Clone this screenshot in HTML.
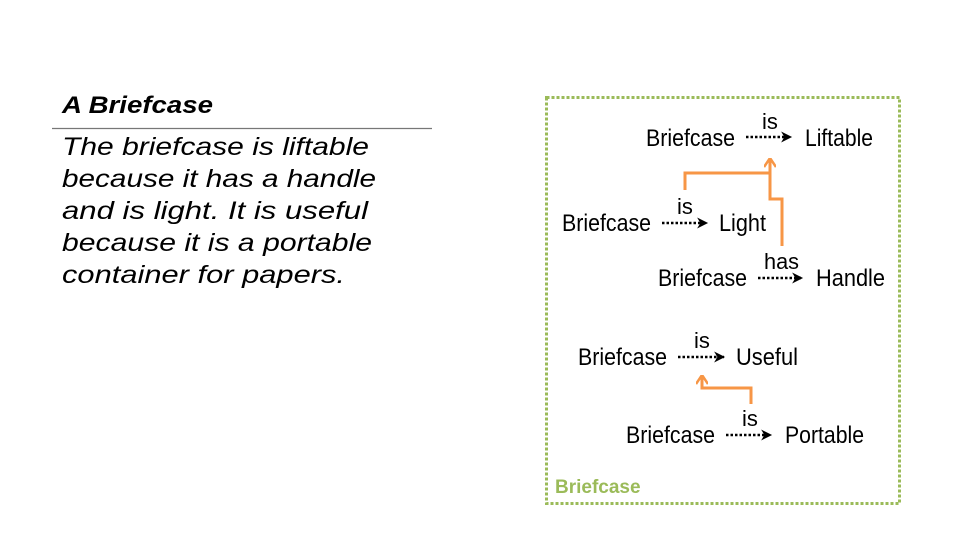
<!DOCTYPE html>
<html><head><meta charset="utf-8"><style>
html,body{margin:0;padding:0;background:#fff;width:960px;height:540px;overflow:hidden}
</style></head><body>
<svg width="960" height="540" viewBox="0 0 960 540" xmlns="http://www.w3.org/2000/svg">
<defs>
<marker id="ab" viewBox="0 0 10 10" refX="9" refY="5" markerWidth="12" markerHeight="11" markerUnits="userSpaceOnUse" orient="auto"><path d="M0,0 L10,5 L0,10 L3,5 z" fill="#000"/></marker>
<marker id="ao" viewBox="0 0 12 10" refX="6" refY="1" markerWidth="12" markerHeight="10" markerUnits="userSpaceOnUse" orient="0"><path d="M0,9 L6,0 L12,9" fill="none" stroke="#f79646" stroke-width="2.5"/></marker>
</defs>
<g font-family="Liberation Sans, sans-serif" font-style="italic" fill="#000">
<text x="62" y="113" font-size="24" font-weight="bold" textLength="151" lengthAdjust="spacingAndGlyphs">A Briefcase</text>
<text x="62" y="155" font-size="25" textLength="307" lengthAdjust="spacingAndGlyphs">The briefcase is liftable</text>
<text x="62" y="187" font-size="25" textLength="314" lengthAdjust="spacingAndGlyphs">because it has a handle</text>
<text x="62" y="219" font-size="25" textLength="306" lengthAdjust="spacingAndGlyphs">and is light. It is useful</text>
<text x="62" y="251" font-size="25" textLength="310" lengthAdjust="spacingAndGlyphs">because it is a portable</text>
<text x="62" y="283" font-size="25" textLength="283" lengthAdjust="spacingAndGlyphs">container for papers.</text>
</g>
<line x1="52" y1="128.5" x2="432" y2="128.5" stroke="#777" stroke-width="1.3"/>
<rect x="546.5" y="97.5" width="353" height="406" fill="none" stroke="#9bbb59" stroke-width="3" stroke-dasharray="3,2"/>
<text x="555" y="493" font-family="Liberation Sans, sans-serif" font-weight="bold" font-size="19" fill="#9bbb59">Briefcase</text>
<g font-family="Liberation Sans, sans-serif" font-size="24" fill="#000">
<text x="646" y="146" textLength="89" lengthAdjust="spacingAndGlyphs">Briefcase</text>
<text x="805" y="146" textLength="68" lengthAdjust="spacingAndGlyphs">Liftable</text>
<text x="762" y="129" font-size="22">is</text>
<text x="562" y="231" textLength="89" lengthAdjust="spacingAndGlyphs">Briefcase</text>
<text x="719" y="231" textLength="47" lengthAdjust="spacingAndGlyphs">Light</text>
<text x="677" y="214" font-size="22">is</text>
<text x="658" y="286" textLength="89" lengthAdjust="spacingAndGlyphs">Briefcase</text>
<text x="816" y="286" textLength="69" lengthAdjust="spacingAndGlyphs">Handle</text>
<text x="764" y="269" font-size="22" textLength="35" lengthAdjust="spacingAndGlyphs">has</text>
<text x="578" y="365" textLength="89" lengthAdjust="spacingAndGlyphs">Briefcase</text>
<text x="736" y="365" textLength="62" lengthAdjust="spacingAndGlyphs">Useful</text>
<text x="694" y="348" font-size="22">is</text>
<text x="626" y="443" textLength="89" lengthAdjust="spacingAndGlyphs">Briefcase</text>
<text x="785" y="443" textLength="79" lengthAdjust="spacingAndGlyphs">Portable</text>
<text x="742" y="426" font-size="22">is</text>
</g>
<g stroke="#000" stroke-width="2.6" stroke-dasharray="2.5,2" fill="none">
<line x1="746" y1="137" x2="791" y2="137" marker-end="url(#ab)"/>
<line x1="662" y1="223" x2="707" y2="223" marker-end="url(#ab)"/>
<line x1="758" y1="278" x2="802" y2="278" marker-end="url(#ab)"/>
<line x1="678" y1="357" x2="724" y2="357" marker-end="url(#ab)"/>
<line x1="726" y1="435" x2="771" y2="435" marker-end="url(#ab)"/>
</g>
<g stroke="#f79646" stroke-width="3" fill="none">
<polyline points="685,190 685,173 770,173 770,159" marker-end="url(#ao)"/>
<polyline points="782,246 782,199 770,199 770,173"/>
<polyline points="751,404 751,388 702,388 702,376" marker-end="url(#ao)"/>
</g>
</svg>
</body></html>
